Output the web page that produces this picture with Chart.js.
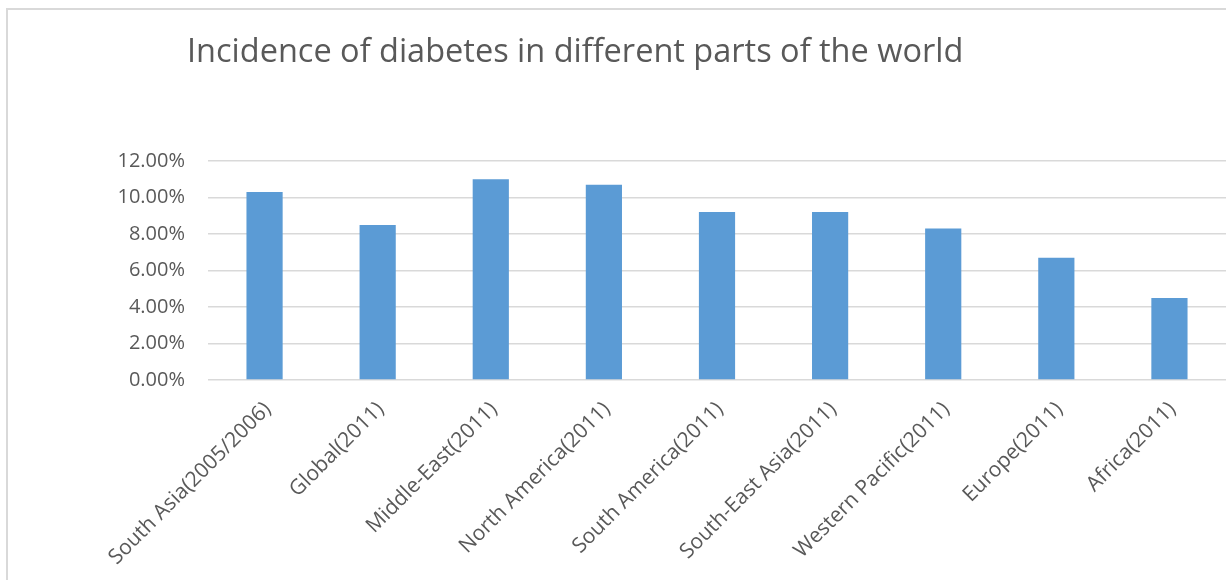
<!DOCTYPE html>
<html>
<head>
<meta charset="utf-8">
<script src="https://cdn.jsdelivr.net/npm/chart.js@4/dist/chart.umd.min.js"></script>
<style>
  html, body { margin: 0; padding: 0; background: #ffffff; }
  #wrap { position: relative; width: 1226px; height: 580px; overflow: hidden; }
  #frame { position: absolute; left: 6px; top: 8px; width: 1300px; height: 700px;
           border-left: 2px solid #d9d9d9; border-top: 2px solid #d9d9d9; }
  #c { position: absolute; left: 0; top: 0; }
</style>
</head>
<body>
<div id="wrap">
  <div id="frame"></div>
  <canvas id="c" width="1226" height="580"></canvas>
</div>
<script>
const titleText = "Incidence of diabetes in different parts of the world";
const categories = [
  "South Asia(2005/2006)", "Global(2011)", "Middle-East(2011)", "North America(2011)",
  "South America(2011)", "South-East Asia(2011)", "Western Pacific(2011)", "Europe(2011)", "Africa(2011)"
];
const incidence = [0.103, 0.085, 0.110, 0.107, 0.092, 0.092, 0.083, 0.067, 0.045];
const yTickValues = [0, 0.02, 0.04, 0.06, 0.08, 0.10, 0.12];

const textColor = "#595959";

const titlePlugin = {
  id: "leftTitle",
  afterDraw(chart) {
    const ctx = chart.ctx;
    ctx.save();
    ctx.fillStyle = textColor;
    ctx.font = "normal 32.5px 'Open Sans', sans-serif";
    ctx.textAlign = "left";
    ctx.textBaseline = "alphabetic";
    ctx.fillText(titleText, 187, 62);
    ctx.restore();
  }
};

new Chart(document.getElementById("c"), {
  type: "bar",
  data: {
    labels: categories,
    datasets: [{
      label: "Incidence",
      data: incidence,
      backgroundColor: "#5b9bd5",
      borderWidth: 0,
      categoryPercentage: 1.0,
      barPercentage: 0.32
    }]
  },
  options: {
    responsive: false,
    animation: false,
    layout: { padding: { left: 0, top: 161, right: 0, bottom: 0 } },
    plugins: {
      legend: { display: false },
      tooltip: { enabled: false },
      title: { display: false }
    },
    scales: {
      x: {
        grid: { display: false },
        border: { display: false },
        ticks: {
          autoSkip: false,
          minRotation: 45,
          maxRotation: 45,
          padding: 9,
          labelOffset: 3,
          color: textColor,
          font: { family: "'Open Sans', sans-serif", size: 21 }
        },
        afterFit: function (scale) { scale.height = 200; }
      },
      y: {
        min: 0,
        max: 0.12,
        afterBuildTicks: function (scale) {
          scale.ticks = yTickValues.map(v => ({ value: v }));
        },
        grid: { color: "#d9d9d9", lineWidth: 1.5, drawTicks: false },
        border: { display: false },
        ticks: {
          padding: 23,
          color: textColor,
          font: { family: "'Open Sans', sans-serif", size: 20 },
          callback: function (v) { return (v * 100).toFixed(2) + "%"; }
        },
        afterFit: function (scale) { scale.width = 208; }
      }
    }
  },
  plugins: [titlePlugin]
});
</script>
</body>
</html>
